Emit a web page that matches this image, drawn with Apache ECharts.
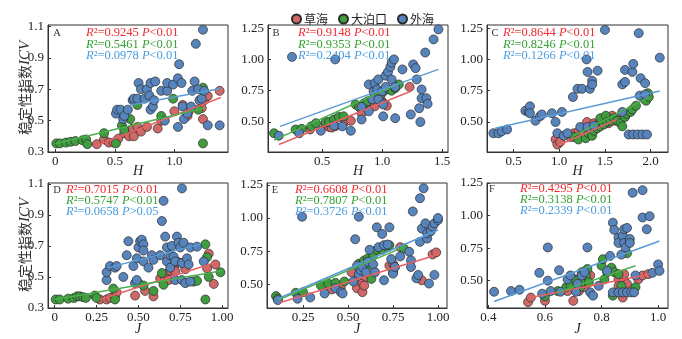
<!DOCTYPE html>
<html><head><meta charset="utf-8">
<script src="https://cdn.jsdelivr.net/npm/echarts@6/dist/echarts.min.js"></script>
<style>html,body{margin:0;padding:0;background:#fff}#c{width:682px;height:339px}</style>
</head><body><div id="c"></div>
<script>
const seriesNames = ['草海', '大泊口', '外海'];
const panelLetters = ['A', 'B', 'C', 'D', 'E', 'F'];
const xTitles = ['H', 'H', 'H', 'J', 'J', 'J'];

// ---- Panel A (x = H) ----
const A_caohai = [[0.35,0.35],[0.41,0.38],[0.45,0.36],[0.49,0.36],[0.53,0.385],[0.58,0.42],[0.62,0.40],[0.65,0.45],[0.66,0.40],[0.69,0.46],[0.72,0.43],[0.77,0.46],[0.86,0.45],[0.89,0.50],[1.0,0.56],[1.07,0.60],[1.11,0.53],[1.12,0.557],[1.23,0.58],[1.24,0.51],[1.25,0.63],[1.28,0.657],[1.38,0.69]];
const A_dabokou = [[0.01,0.355],[0.04,0.355],[0.09,0.36],[0.13,0.365],[0.17,0.37],[0.23,0.375],[0.26,0.38],[0.27,0.35],[0.41,0.42],[0.51,0.355],[0.56,0.47],[0.58,0.44],[0.63,0.51],[0.69,0.60],[0.89,0.53],[0.99,0.64],[1.20,0.57],[1.24,0.71],[1.24,0.355]];
const A_waihai = [[0.51,0.545],[0.52,0.57],[0.55,0.57],[0.57,0.51],[0.58,0.53],[0.61,0.57],[0.65,0.63],[0.66,0.64],[0.69,0.64],[0.70,0.74],[0.72,0.70],[0.75,0.64],[0.77,0.70],[0.79,0.66],[0.80,0.74],[0.80,0.57],[0.82,0.59],[0.83,0.63],[0.84,0.75],[0.89,0.69],[0.92,0.50],[0.94,0.69],[0.94,0.74],[0.99,0.73],[1.03,0.77],[1.03,0.46],[1.04,0.86],[1.06,0.74],[1.07,0.59],[1.08,0.51],[1.11,0.545],[1.14,0.59],[1.15,0.69],[1.17,0.75],[1.18,0.99],[1.20,0.70],[1.21,0.63],[1.23,0.64],[1.24,1.08],[1.25,0.69],[1.28,0.47],[1.38,0.47]];
const A_fitCaohai = [[0.34,0.34],[1.39,0.648]];
const A_fitDabokou = [[0.0,0.353],[1.25,0.58]];
const A_fitWaihai = [[0.63,0.60],[1.39,0.705]];

// ---- Panel B (x = H) ----
const B_caohai = [[0.40,0.44],[0.53,0.48],[0.56,0.46],[0.58,0.455],[0.61,0.465],[0.69,0.50],[0.74,0.51],[0.83,0.57],[0.89,0.60],[0.94,0.625],[1.0,0.665],[1.01,0.65],[1.04,0.63],[1.23,0.78]];
const B_dabokou = [[0.10,0.41],[0.28,0.44],[0.33,0.445],[0.41,0.465],[0.45,0.49],[0.53,0.50],[0.56,0.50],[0.60,0.52],[0.64,0.54],[0.68,0.545],[0.78,0.64],[0.81,0.62],[0.85,0.65],[0.88,0.665],[0.92,0.68],[0.94,0.69],[1.0,0.73],[1.03,0.76],[1.06,0.76],[1.08,0.75],[1.11,0.77],[1.14,0.80]];
const B_waihai = [[0.14,0.39],[0.25,1.02],[0.31,0.41],[0.49,0.43],[0.60,0.47],[0.61,1.0],[0.67,0.465],[0.74,0.43],[0.83,0.52],[0.83,0.62],[0.89,0.585],[0.89,0.80],[0.92,0.68],[0.93,0.745],[0.94,0.81],[0.96,0.76],[0.97,0.84],[0.97,0.68],[1.0,0.745],[1.01,0.545],[1.01,0.64],[1.03,0.87],[1.03,0.78],[1.05,0.90],[1.07,0.94],[1.08,0.975],[1.08,0.84],[1.10,1.0],[1.11,0.78],[1.11,0.53],[1.17,0.92],[1.24,0.56],[1.26,0.96],[1.28,0.93],[1.29,0.84],[1.31,0.61],[1.32,0.50],[1.33,0.76],[1.33,0.69],[1.37,0.69],[1.38,0.645],[1.36,1.055],[1.43,1.16],[1.47,1.24]];
const B_fitCaohai = [[0.14,0.32],[1.24,0.745]];
const B_fitDabokou = [[0.10,0.355],[1.14,0.805]];
const B_fitWaihai = [[0.15,0.465],[1.47,0.92]];

// ---- Panel C (x = H) ----
const C_caohai = [[0.96,0.36],[0.98,0.32],[1.01,0.34],[1.12,0.38],[1.16,0.41],[1.21,0.42],[1.25,0.435],[1.29,0.46],[1.305,0.50],[1.34,0.45],[1.38,0.49],[1.415,0.475],[1.45,0.51],[1.49,0.52],[1.525,0.535],[1.54,0.49],[1.56,0.53],[1.58,0.55],[1.60,0.51],[1.63,0.535]];
const C_dabokou = [[1.16,0.38],[1.21,0.36],[1.29,0.37],[1.32,0.41],[1.36,0.39],[1.38,0.43],[1.415,0.45],[1.45,0.465],[1.45,0.53],[1.49,0.48],[1.51,0.55],[1.525,0.50],[1.56,0.51],[1.60,0.53],[1.635,0.51],[1.67,0.49],[1.69,0.465],[1.72,0.54],[1.74,0.565],[1.78,0.58],[1.80,0.60],[1.84,0.63],[1.93,0.685],[1.95,0.67],[1.97,0.73],[1.98,0.70]];
const C_waihai = [[0.28,0.41],[0.335,0.41],[0.37,0.425],[0.43,0.44],[0.63,0.59],[0.665,0.58],[0.68,0.625],[0.68,0.57],[0.74,0.51],[0.79,0.545],[0.81,0.56],[0.92,0.57],[0.96,0.50],[0.98,0.41],[1.03,0.58],[1.05,0.39],[1.09,0.41],[1.15,0.70],[1.20,0.765],[1.23,0.46],[1.25,0.765],[1.30,1.0],[1.31,0.90],[1.31,0.46],[1.335,0.765],[1.36,0.83],[1.36,0.80],[1.38,0.47],[1.42,0.91],[1.50,1.236],[1.69,0.58],[1.69,0.80],[1.72,0.82],[1.72,0.916],[1.76,0.40],[1.80,0.90],[1.81,0.964],[1.81,0.40],[1.86,0.40],[1.87,1.21],[1.88,0.71],[1.89,0.85],[1.91,0.40],[1.94,0.81],[1.94,0.72],[1.96,0.40],[2.10,1.014]];
const C_fitCaohai = [[0.98,0.31],[1.63,0.52]];
const C_fitDabokou = [[1.16,0.39],[1.99,0.70]];
const C_fitWaihai = [[0.30,0.45],[2.10,0.748]];

// ---- Panel D (x = J) ----
const D_caohai = [[0.27,0.355],[0.31,0.355],[0.33,0.365],[0.36,0.375],[0.37,0.40],[0.48,0.38],[0.54,0.41],[0.59,0.375],[0.63,0.49],[0.66,0.49],[0.67,0.52],[0.68,0.48],[0.69,0.54],[0.71,0.56],[0.72,0.58],[0.72,0.537],[0.73,0.60],[0.76,0.59],[0.78,0.55],[0.91,0.555],[0.92,0.65],[0.95,0.455],[0.96,0.58]];
const D_dabokou = [[0.006,0.355],[0.03,0.355],[0.08,0.36],[0.114,0.364],[0.134,0.375],[0.15,0.375],[0.17,0.37],[0.186,0.365],[0.24,0.38],[0.25,0.365],[0.35,0.425],[0.36,0.355],[0.50,0.46],[0.53,0.445],[0.59,0.41],[0.64,0.525],[0.65,0.45],[0.83,0.47],[0.85,0.475],[0.90,0.355],[0.90,0.71],[0.91,0.627],[0.92,0.50],[0.99,0.53]];
const D_waihai = [[0.31,0.48],[0.31,0.53],[0.33,0.57],[0.36,0.56],[0.37,0.57],[0.41,0.50],[0.43,0.64],[0.44,0.73],[0.47,0.57],[0.48,0.46],[0.49,0.48],[0.49,0.62],[0.50,0.69],[0.51,0.73],[0.52,0.74],[0.53,0.71],[0.53,0.67],[0.53,0.60],[0.56,0.56],[0.58,0.64],[0.59,0.61],[0.63,0.64],[0.64,0.86],[0.65,0.99],[0.66,0.76],[0.67,0.69],[0.67,0.60],[0.69,0.64],[0.69,0.56],[0.70,0.70],[0.71,0.63],[0.72,0.60],[0.72,0.48],[0.73,0.76],[0.74,0.72],[0.75,0.69],[0.76,0.59],[0.76,1.07],[0.76,0.48],[0.77,0.72],[0.78,0.46],[0.79,0.62],[0.80,0.58],[0.81,0.69],[0.81,0.47],[0.85,0.695],[0.89,0.60]];
const D_fitCaohai = [[0.27,0.355],[0.95,0.59]];
const D_fitDabokou = [[0.0,0.355],[1.0,0.54]];
const D_fitWaihai = [[0.32,0.56],[0.87,0.71]];

// ---- Panel E (x = J) ----
const E_caohai = [[0.11,0.39],[0.39,0.49],[0.41,0.46],[0.46,0.47],[0.52,0.59],[0.55,0.53],[0.55,0.47],[0.58,0.505],[0.58,0.44],[0.59,0.49],[0.60,0.555],[0.62,0.67],[0.73,0.64],[0.75,0.655],[0.76,0.63],[0.79,0.78],[0.91,0.53],[0.97,0.725],[0.99,0.74]];
const E_dabokou = [[0.10,0.41],[0.11,0.39],[0.21,0.435],[0.25,0.44],[0.35,0.49],[0.39,0.505],[0.43,0.51],[0.48,0.52],[0.56,0.655],[0.58,0.65],[0.59,0.68],[0.60,0.62],[0.61,0.695],[0.63,0.54],[0.64,0.72],[0.66,0.76],[0.68,0.77],[0.69,0.76],[0.72,0.78],[0.73,0.795],[0.75,0.59],[0.81,0.77]];
const E_waihai = [[0.11,0.38],[0.22,0.39],[0.245,1.01],[0.29,0.40],[0.37,0.43],[0.43,0.47],[0.46,0.44],[0.47,0.43],[0.53,0.52],[0.54,0.84],[0.55,0.64],[0.56,1.01],[0.56,0.575],[0.57,0.605],[0.58,0.63],[0.60,0.59],[0.61,0.67],[0.62,0.76],[0.64,0.65],[0.65,0.59],[0.66,0.93],[0.67,0.78],[0.69,0.88],[0.70,0.795],[0.70,0.53],[0.72,0.80],[0.73,0.93],[0.74,0.69],[0.75,0.58],[0.76,0.63],[0.79,0.71],[0.84,0.745],[0.85,0.68],[0.85,0.63],[0.86,1.05],[0.88,0.545],[0.89,0.57],[0.90,0.82],[0.90,1.15],[0.91,0.92],[0.92,1.225],[0.93,0.96],[0.94,0.845],[0.94,0.885],[0.95,0.505],[0.96,0.90],[0.97,0.935],[0.98,0.96],[0.98,0.57],[1.0,0.985],[1.0,1.0]];
const E_fitCaohai = [[0.12,0.36],[1.0,0.725]];
const E_fitDabokou = [[0.11,0.38],[0.81,0.78]];
const E_fitWaihai = [[0.11,0.39],[1.0,0.91]];

// ---- Panel F (x = J) ----
const F_caohai = [[0.54,0.335],[0.55,0.37],[0.60,0.345],[0.68,0.42],[0.70,0.345],[0.70,0.50],[0.71,0.51],[0.72,0.42],[0.74,0.45],[0.76,0.54],[0.86,0.51],[0.86,0.46],[0.87,0.42],[0.875,0.37],[0.88,0.50],[0.88,0.55],[0.89,0.475],[0.93,0.51],[0.945,0.54],[0.965,0.55]];
const F_dabokou = [[0.60,0.38],[0.645,0.42],[0.675,0.45],[0.69,0.46],[0.71,0.50],[0.725,0.45],[0.73,0.487],[0.73,0.565],[0.745,0.54],[0.75,0.59],[0.755,0.487],[0.80,0.615],[0.805,0.665],[0.81,0.51],[0.82,0.565],[0.835,0.60],[0.84,0.385],[0.845,0.565],[0.86,0.55],[0.87,0.46],[0.89,0.71],[0.92,0.45]];
const F_waihai = [[0.42,0.415],[0.48,0.42],[0.51,0.43],[0.58,0.56],[0.59,0.40],[0.61,0.50],[0.61,0.755],[0.62,0.42],[0.65,0.58],[0.655,0.415],[0.68,0.51],[0.69,0.54],[0.71,0.415],[0.715,0.475],[0.73,0.54],[0.74,0.565],[0.75,0.755],[0.76,0.41],[0.77,0.385],[0.79,0.46],[0.82,0.575],[0.83,0.69],[0.84,0.41],[0.84,0.945],[0.845,0.89],[0.86,0.83],[0.86,0.79],[0.86,0.41],[0.87,0.70],[0.875,0.845],[0.875,0.41],[0.88,0.79],[0.88,0.895],[0.885,0.755],[0.89,0.905],[0.89,0.41],[0.90,0.82],[0.90,0.79],[0.905,0.41],[0.91,1.175],[0.915,0.41],[0.92,0.54],[0.945,1.195],[0.945,0.985],[0.96,0.895],[0.97,0.995],[0.98,0.56],[1.0,0.625],[1.005,0.575]];
const F_fitCaohai = [[0.55,0.37],[0.97,0.55]];
const F_fitDabokou = [[0.645,0.41],[0.92,0.615]];
const F_fitWaihai = [[0.42,0.34],[1.005,0.805]];

// ---- statistics text ----
const r2Values = [['0.9245','0.5461','0.0978'],['0.9148','0.9353','0.2404'],['0.8644','0.8246','0.1266'],['0.7015','0.5747','0.0658'],['0.6608','0.7807','0.3726'],['0.4295','0.3138','0.2339']];
const pValues = [['<0.01','<0.01','<0.01'],['<0.01','<0.01','<0.01'],['<0.01','<0.01','<0.01'],['<0.01','<0.01','>0.05'],['<0.01','<0.01','<0.01'],['<0.01','<0.01','<0.01']];

// ---- tick values and labels ----
const xTickValues = [[0,0.5,1.0],[0.5,1.0,1.5],[0.5,1.0,1.5,2.0],[0,0.25,0.5,0.75,1.0],[0.25,0.5,0.75,1.0],[0.4,0.6,0.8,1.0]];
const xTickLabels = [['0','0.5','1.0'],['0.5','1.0','1.5'],['0.5','1.0','1.5','2.0'],['0','0.25','0.50','0.75','1.00'],['0.25','0.50','0.75','1.00'],['0.4','0.6','0.8','1.0']];
const yTickValues = [[0.3,0.5,0.7,0.9,1.1],[0.5,0.75,1.0,1.25],[0.5,0.75,1.0,1.25],[0.3,0.5,0.7,0.9,1.1],[0.5,0.75,1.0,1.25],[0.5,0.75,1.0,1.25]];
const yTickLabels = [['0.3','0.5','0.7','0.9','1.1'],['0.50','0.75','1.00','1.25'],['0.50','0.75','1.00','1.25'],['0.3','0.5','0.7','0.9','1.1'],['0.50','0.75','1.00','1.25'],['0.50','0.75','1.00','1.25']];

const panelPoints = [
  [A_caohai, A_dabokou, A_waihai],[B_caohai, B_dabokou, B_waihai],[C_caohai, C_dabokou, C_waihai],
  [D_caohai, D_dabokou, D_waihai],[E_caohai, E_dabokou, E_waihai],[F_caohai, F_dabokou, F_waihai]
];
const panelFits = [
  [A_fitCaohai, A_fitDabokou, A_fitWaihai],[B_fitCaohai, B_fitDabokou, B_fitWaihai],[C_fitCaohai, C_fitDabokou, C_fitWaihai],
  [D_fitCaohai, D_fitDabokou, D_fitWaihai],[E_fitCaohai, E_fitDabokou, E_fitWaihai],[F_fitCaohai, F_fitDabokou, F_fitWaihai]
];

// ---- layout / style ----
const layout = [
  {left:48, top:25, width:180, height:127, x:[-0.06,1.45], y:[0.3,1.11], letter:[57,33], txt:[86,33], dy:11.5, gap:12},
  {left:268, top:25, width:180, height:127, x:[0.05,1.55], y:[0.26,1.275], letter:[276,33], txt:[298,33], dy:11.5, gap:12},
  {left:487, top:25, width:181, height:127, x:[0.21,2.19], y:[0.26,1.275], letter:[495,33], txt:[503,33], dy:11.5, gap:12},
  {left:48, top:183, width:180, height:125, x:[-0.04,1.035], y:[0.3,1.105], letter:[57,190], txt:[66,190], dy:10.8, gap:14},
  {left:267, top:183, width:180, height:125, x:[0.05,1.05], y:[0.32,1.265], letter:[275,190], txt:[295,190], dy:10.8, gap:14},
  {left:487, top:183, width:181, height:125, x:[0.395,1.035], y:[0.29,1.25], letter:[492,189], txt:[520,189], dy:10.8, gap:14}
];
const ptColors = ['#d06868', '#3f9c3f', '#5784bd'];
const lineColors = ['#e86262', '#4cb04c', '#5b9bd5'];
const txtColors = ['#f02a30', '#35a035', '#4a9de0'];
const serif = 'Liberation Serif';
const cjk = 'Noto Sans CJK SC';

function labelFor(vals, labs) {
  return function (v) {
    for (let i = 0; i < vals.length; i++) if (Math.abs(vals[i] - v) < 1e-6) return labs[i];
    return '';
  };
}

const grids = [], xAxes = [], yAxes = [], series = [], graphics = [];
layout.forEach((L, p) => {
  grids.push({left:L.left, top:L.top, width:L.width, height:L.height, show:true, borderColor:'#333', borderWidth:1, containLabel:false});
  xAxes.push({
    type:'value', gridIndex:p, min:L.x[0], max:L.x[1],
    name: xTitles[p], nameLocation:'middle', nameGap: L.gap, nameMoveOverlap:false,
    nameTextStyle:{fontFamily:serif, fontStyle:'italic', fontSize:14, color:'#222', verticalAlign:'top'},
    axisLine:{show:true, onZero:false, lineStyle:{color:'#333', width:1}},
    axisTick:{show:true, inside:true, length:3, customValues:xTickValues[p], lineStyle:{color:'#333'}},
    axisLabel:{customValues:xTickValues[p], formatter:labelFor(xTickValues[p], xTickLabels[p]), fontFamily:serif, fontSize:13, color:'#222', margin:3},
    splitLine:{show:false}
  });
  yAxes.push({
    type:'value', gridIndex:p, min:L.y[0], max:L.y[1],
    axisLine:{show:true, onZero:false, lineStyle:{color:'#333', width:1}},
    axisTick:{show:true, inside:true, length:3, customValues:yTickValues[p], lineStyle:{color:'#333'}},
    axisLabel:{customValues:yTickValues[p], formatter:labelFor(yTickValues[p], yTickLabels[p]), fontFamily:serif, fontSize:13, color:'#222', margin:4},
    splitLine:{show:false}
  });
  for (let s = 0; s < 3; s++) {
    series.push({
      name: seriesNames[s], type:'scatter', xAxisIndex:p, yAxisIndex:p,
      data: panelPoints[p][s], symbol:'circle', symbolSize:9,
      itemStyle:{color:ptColors[s], borderColor:'#2b2b2b', borderWidth:0.7, opacity:1},
      z: 2 + s * 0.1, emphasis:{disabled:true}
    });
  }
  for (let s = 0; s < 3; s++) {
    series.push({
      name: seriesNames[s] + '-fit', type:'line', xAxisIndex:p, yAxisIndex:p,
      data: panelFits[p][s], symbol:'none', showSymbol:false, silent:true,
      lineStyle:{color:lineColors[s], width:1.5}, z:4
    });
  }
  graphics.push({type:'text', x:L.letter[0], y:L.letter[1], style:{text:panelLetters[p], fontFamily:serif, fontSize:10.5, fill:'#333', align:'center', verticalAlign:'middle'}, z:10});
  for (let s = 0; s < 3; s++) {
    const c = txtColors[s];
    graphics.push({
      type:'text', x:L.txt[0], y:L.txt[1] + s * L.dy, z:10,
      style:{
        text:'{i|R}{n|²=' + r2Values[p][s] + ' }{i|P}{n|' + pValues[p][s] + '}',
        align:'left', verticalAlign:'middle',
        rich:{
          i:{fontFamily:serif, fontStyle:'italic', fontSize:12.5, fill:c},
          n:{fontFamily:serif, fontSize:12.5, fill:c}
        }
      }
    });
  }
});
[88, 245].forEach(cy => {
  graphics.push({
    type:'text', x:25, y:cy, rotation:Math.PI/2, z:10,
    style:{
      text:'{c|稳定性指数}{i|ICV}', align:'center', verticalAlign:'middle',
      rich:{
        c:{fontFamily:cjk, fontSize:14, fill:'#333'},
        i:{fontFamily:serif, fontStyle:'italic', fontSize:15, fill:'#333'}
      }
    }
  });
});

const chart = echarts.init(document.getElementById('c'), null, {renderer:'canvas'});
chart.setOption({
  animation:false,
  backgroundColor:'#fff',
  legend:{
    data:seriesNames, left:286, top:8, icon:'circle', itemWidth:9, itemHeight:9, itemGap:10,
    textStyle:{fontFamily:cjk, fontSize:12, color:'#222', padding:[0,0,0,-2]}
  },
  grid:grids, xAxis:xAxes, yAxis:yAxes, series:series, graphic:graphics
});
</script></body></html>
